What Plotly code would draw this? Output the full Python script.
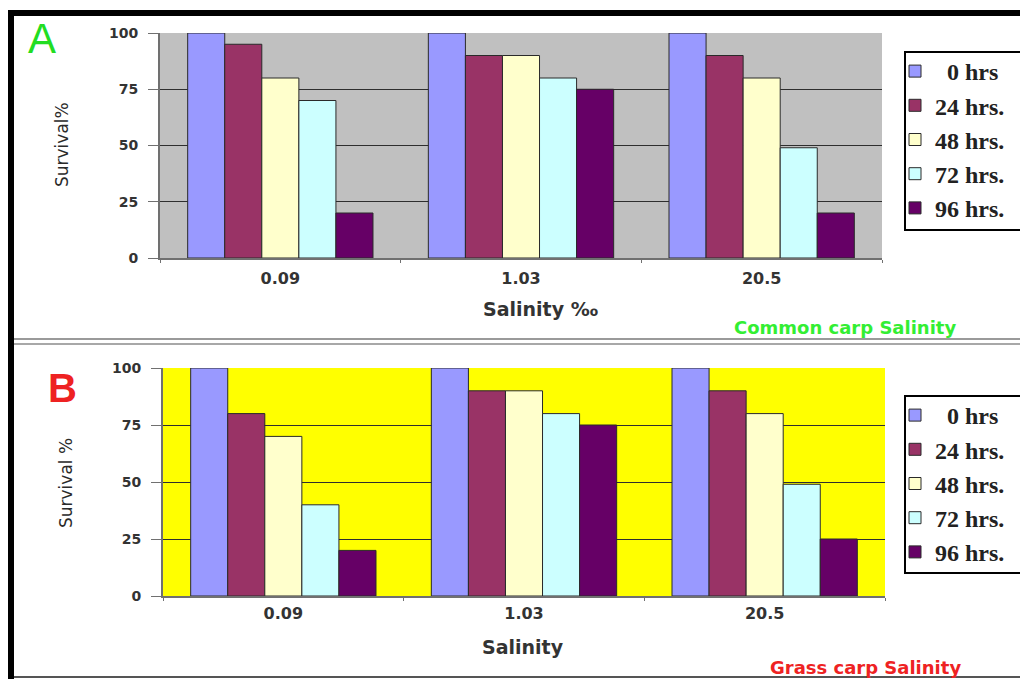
import plotly.graph_objects as go

W, H = 1020, 679

# Salinity levels (category axis) and exposure times
salinity = ["0.09", "1.03", "20.5"]
hours = ["\u20070 hrs", "24 hrs.", "48 hrs.", "72 hrs.", "96 hrs."]

# Survival % – common carp (panel A)
common_0h = [100, 100, 100]
common_24h = [95, 90, 90]
common_48h = [80, 90, 80]
common_72h = [70, 80, 49]
common_96h = [20, 75, 20]

# Survival % – grass carp (panel B)
grass_0h = [100, 100, 100]
grass_24h = [80, 90, 90]
grass_48h = [70, 90, 80]
grass_72h = [40, 80, 49]
grass_96h = [20, 75, 25]

bar_colors = ["#9999ff", "#993366", "#ffffcc", "#ccffff", "#660066"]


def px(x):
    return x / W


def py(y):
    return 1 - y / H


fig = go.Figure()

common = [common_0h, common_24h, common_48h, common_72h, common_96h]
grass = [grass_0h, grass_24h, grass_48h, grass_72h, grass_96h]

for i, (name, vals) in enumerate(zip(hours, common)):
    fig.add_trace(go.Bar(
        x=salinity, y=vals, name=name, xaxis="x", yaxis="y",
        marker=dict(color=bar_colors[i], line=dict(color="#2a2a2a", width=1)),
        legend="legend", legendgroup=f"a{i}",
    ))

for i, (name, vals) in enumerate(zip(hours, grass)):
    fig.add_trace(go.Bar(
        x=salinity, y=vals, name=name, xaxis="x2", yaxis="y2",
        marker=dict(color=bar_colors[i], line=dict(color="#2a2a2a", width=1)),
        legend="legend2", legendgroup=f"b{i}",
    ))

tick_font = dict(family="DejaVu Sans", size=14, color="#333333", weight="bold")
xtick_font = dict(family="DejaVu Sans", size=16, color="#333333", weight="bold")

yaxis_common = dict(
    range=[0, 100], tickvals=[0, 25, 50, 75, 100], showgrid=True,
    gridcolor="#2e2e2e", gridwidth=1, showline=True, linecolor="#707070",
    linewidth=2, ticks="outside", ticklen=10, tickcolor="#707070",
    tickfont=tick_font, ticklabelstandoff=7, zeroline=False, fixedrange=True,
)
xaxis_common = dict(
    type="category", showline=True, linecolor="#707070", linewidth=2,
    ticks="outside", tickson="boundaries", ticklen=3, tickcolor="#707070",
    tickfont=xtick_font, showgrid=False, fixedrange=True,
)

legend_common = dict(
    xanchor="left", yanchor="top", bgcolor="rgba(0,0,0,0)", borderwidth=0,
    font=dict(family="Liberation Serif", size=24, color="#222222", weight="bold"),
    traceorder="grouped", tracegroupgap=0, itemclick=False,
)

fig.update_layout(
    width=W, height=H,
    margin=dict(l=0, r=0, t=0, b=0, autoexpand=False),
    paper_bgcolor="white",
    barmode="group", bargap=0.23, bargroupgap=0,
    xaxis=dict(domain=[px(160), px(882)], anchor="y", ticklabelstandoff=5, **xaxis_common),
    yaxis=dict(domain=[py(258), py(33)], anchor="x", **yaxis_common),
    xaxis2=dict(domain=[px(163), px(885)], anchor="y2", ticklabelstandoff=2, **xaxis_common),
    yaxis2=dict(domain=[py(596), py(368)], anchor="x2", **yaxis_common),
    legend=dict(x=px(895), y=py(49), **legend_common),
    legend2=dict(x=px(895), y=py(393), **legend_common),
    showlegend=True,
)

# Plot-area backgrounds: grey for panel A, yellow for panel B
fig.add_shape(type="rect", xref="x domain", yref="y domain", x0=0, x1=1, y0=0, y1=1,
              fillcolor="#c0c0c0", line=dict(width=0), layer="below")
fig.add_shape(type="rect", xref="x2 domain", yref="y2 domain", x0=0, x1=1, y0=0, y1=1,
              fillcolor="#ffff00", line=dict(width=0), layer="below")

# Legend boxes
for top, bottom in [(52, 230), (396, 573)]:
    fig.add_shape(type="rect", xref="paper", yref="paper",
                  x0=px(905), x1=px(1030), y0=py(bottom), y1=py(top),
                  fillcolor="white", line=dict(color="black", width=2), layer="above")

# Outer frame and panel separator
fig.add_shape(type="line", xref="paper", yref="paper", x0=px(8), x1=1, y0=py(13), y1=py(13),
              line=dict(color="black", width=6))
fig.add_shape(type="line", xref="paper", yref="paper", x0=px(11), x1=px(11), y0=0, y1=py(10),
              line=dict(color="black", width=6))
fig.add_shape(type="line", xref="paper", yref="paper", x0=px(14), x1=1, y0=py(339), y1=py(339),
              line=dict(color="#9a9a9a", width=2))
fig.add_shape(type="line", xref="paper", yref="paper", x0=px(14), x1=1, y0=py(344), y1=py(344),
              line=dict(color="#a8a8a8", width=2))
fig.add_shape(type="line", xref="paper", yref="paper", x0=px(14), x1=1, y0=py(677), y1=py(677),
              line=dict(color="#555555", width=2))


def text(x, y, s, size, color, family="DejaVu Sans", bold=True, angle=0, xanchor="center"):
    fig.add_annotation(
        x=px(x), y=py(y), xref="paper", yref="paper", text=s, showarrow=False,
        xanchor=xanchor, yanchor="middle", textangle=angle,
        font=dict(family=family, size=size, color=color, weight="bold" if bold else "normal"),
    )


# Panel letters
text(42, 38, "A", 42, "#22dd22", family="Liberation Sans", bold=False)
text(62, 388, "B", 40, "#ee2222", family="Liberation Sans", bold=True)

# Axis titles
text(62, 145, "Survival%", 17, "#2a2a2a", bold=False, angle=-90)
text(66, 483, "Survival %", 17, "#2a2a2a", bold=False, angle=-90)
text(540, 309, "Salinity \u2030", 19, "#333333")
text(523, 647, "Salinity", 19, "#333333")

# Species captions
text(732, 327, "Common carp Salinity", 18, "#33ee33", xanchor="left")
text(768, 667, "Grass carp Salinity", 18, "#ee2222", xanchor="left")

fig.write_html("out.html")
